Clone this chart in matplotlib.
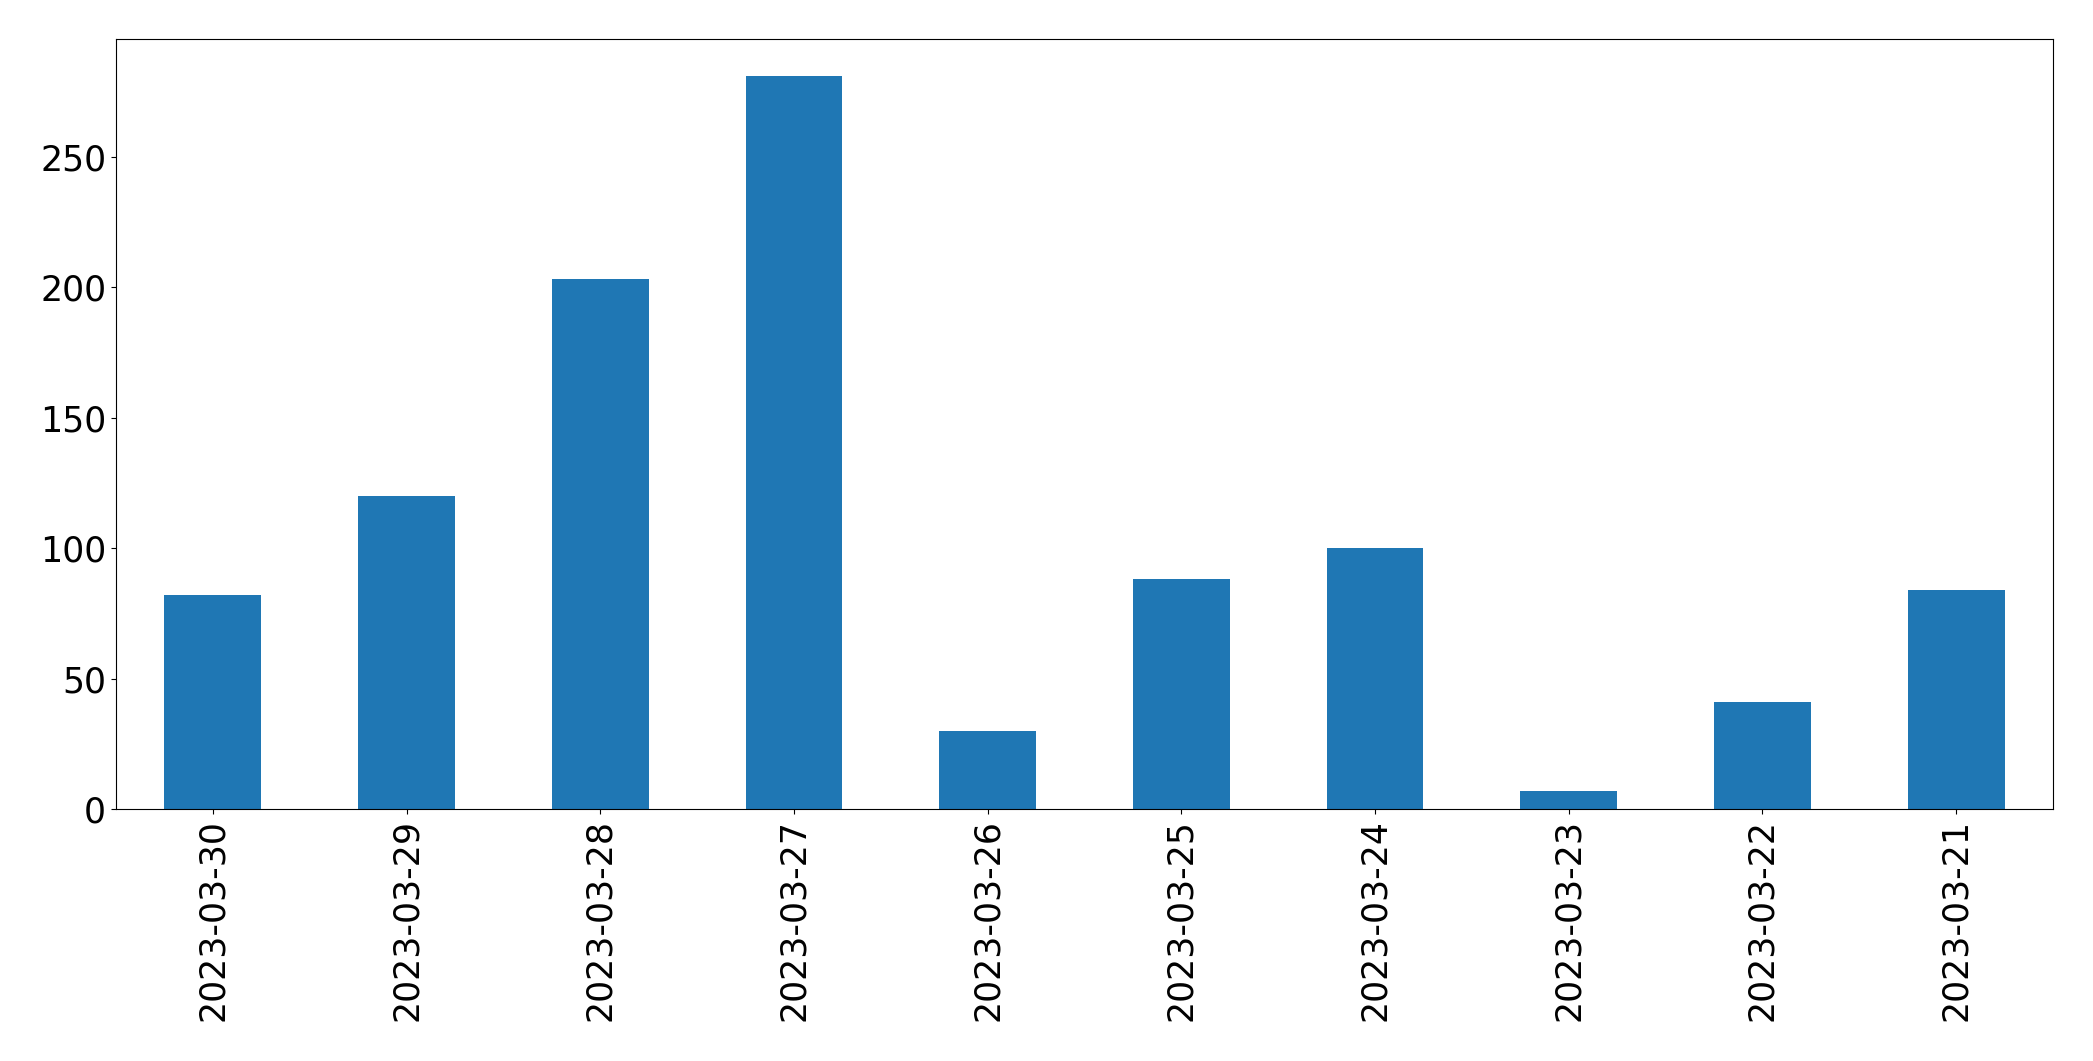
import matplotlib
matplotlib.use('Agg')
from matplotlib import pyplot as plt

dates = ['2023-03-30', '2023-03-29', '2023-03-28', '2023-03-27', '2023-03-26',
         '2023-03-25', '2023-03-24', '2023-03-23', '2023-03-22', '2023-03-21']
counts = [82, 120, 203, 281, 30, 88, 100, 7, 41, 84]

fig = plt.figure(figsize=(20.93, 10.61), dpi=100)
ax = fig.add_axes([0.0554, 0.2375, 0.9255, 0.7255])

x = list(range(len(dates)))
ax.bar(x, counts, width=0.5, color='#1f77b4')
ax.set_xlim(-0.5, len(dates) - 0.5)
ax.set_xticks(x)
ax.set_xticklabels(dates, rotation=90)
ax.tick_params(axis='both', labelsize=25)

fig.savefig('out.png', dpi=100)
